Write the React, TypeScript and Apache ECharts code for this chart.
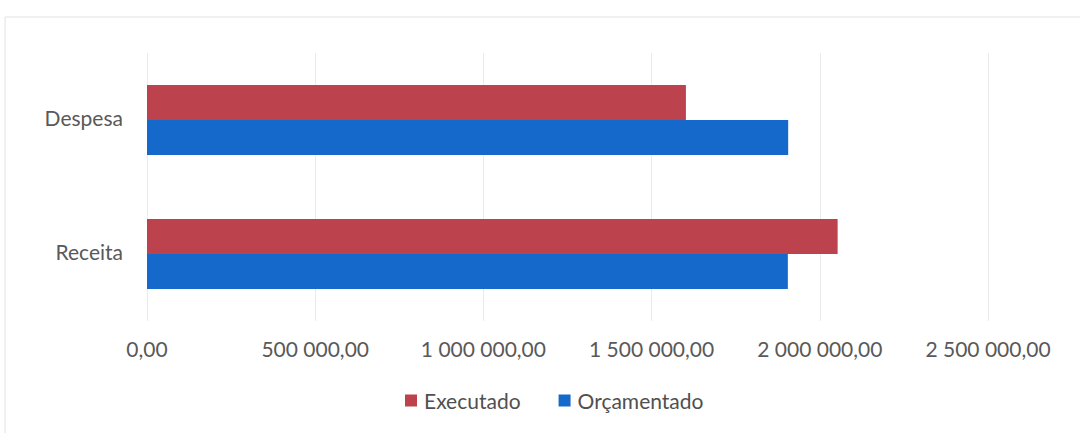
import React, { useEffect, useRef } from "react";
import * as echarts from "echarts";

const categories = ["Receita", "Despesa"];
const executado = [2053000, 1602000];
const orcamentado = [1905000, 1906000];
const seriesNames = ["Executado", "Orçamentado"];

function fmt(v: number): string {
  const fixed = v.toFixed(2);
  const [intPart, dec] = fixed.split(".");
  const withSpaces = intPart.replace(/\B(?=(\d{3})+(?!\d))/g, " ");
  return withSpaces + "," + dec;
}

export default function App() {
  const ref = useRef<HTMLDivElement>(null);
  useEffect(() => {
    if (!ref.current) return;
    const chart = echarts.init(ref.current, null, { renderer: "svg" });
    const font = "Lato, 'Open Sans', sans-serif";
    chart.setOption({
      animation: false,
      backgroundColor: "#ffffff",
      textStyle: { fontFamily: font },
      graphic: [
        {
          type: "rect",
          shape: { x: 5, y: 17, width: 1090, height: 430 },
          style: { fill: "none", stroke: "#e2e2e2", lineWidth: 1 },
          silent: true,
        },
      ],
      grid: { left: 147, right: 92, top: 53, bottom: 112, containLabel: false },
      legend: {
        data: seriesNames,
        top: 390,
        left: 405,
        padding: 0,
        itemWidth: 12,
        itemHeight: 12,
        itemGap: 38,
        icon: "rect",
        textStyle: { fontSize: 21, color: "#505050", fontFamily: font, padding: [0, 0, 0, 2] },
      },
      xAxis: {
        type: "value",
        min: 0,
        max: 2500000,
        interval: 500000,
        axisLine: { show: false },
        axisTick: { show: false },
        splitLine: { show: true, lineStyle: { color: "#ebebeb", width: 1 } },
        axisLabel: {
          formatter: (v: number) => fmt(v),
          fontSize: 21,
          color: "#595959",
          margin: 17,
          fontFamily: font,
        },
      },
      yAxis: {
        type: "category",
        data: categories,
        axisLine: { show: false },
        axisTick: { show: false },
        axisLabel: {
          color: "#595959",
          margin: 24,
          formatter: (v: string) => "{c|" + v + "}",
          rich: {
            c: {
              fontSize: 21,
              color: "#595959",
              fontFamily: font,
              padding: [0, 0, 6, 0],
            },
          },
        },
      },
      series: [
        {
          name: seriesNames[0],
          type: "bar",
          data: executado,
          itemStyle: { color: "#BC434D" },
          barWidth: 35,
          barGap: "0%",
        },
        {
          name: seriesNames[1],
          type: "bar",
          data: orcamentado,
          itemStyle: { color: "#1569CA" },
          barWidth: 35,
          barGap: "0%",
        },
      ],
    });
    return () => chart.dispose();
  }, []);
  return (
    <div
      ref={ref}
      style={{ position: "fixed", left: 0, top: 0, width: 1080, height: 433 }}
    />
  );
}
